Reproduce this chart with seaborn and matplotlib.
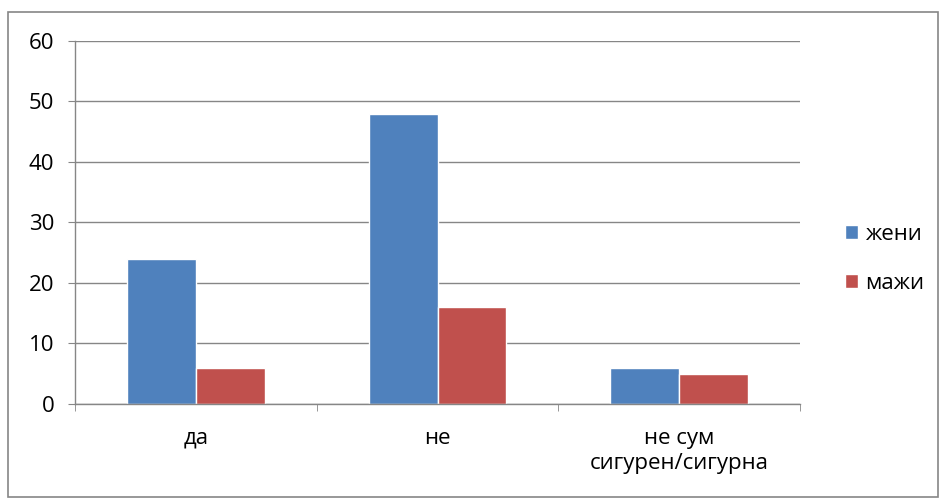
import matplotlib
matplotlib.use("Agg")
import matplotlib.pyplot as plt
import seaborn as sns
import pandas as pd
from matplotlib.patches import Rectangle

categories = ["да", "не", "не сум\nсигурен/сигурна"]
zeni = [24, 48, 6]
mazi = [6, 16, 5]
series_names = ["жени", "мажи"]
colors = ["#4F81BD", "#C0504D"]

df = pd.DataFrame({
    "category": categories * 2,
    "value": zeni + mazi,
    "series": [series_names[0]] * 3 + [series_names[1]] * 3,
})

sns.set_style("white")
plt.rcParams["font.family"] = ["Open Sans", "DejaVu Sans"]
plt.rcParams["text.color"] = "black"
plt.rcParams["xtick.color"] = "black"
plt.rcParams["ytick.color"] = "black"

fig = plt.figure(figsize=(9.4, 4.98), dpi=100)
ax = fig.add_axes([0.0798, 0.1888, 0.7713, 0.7289])

sns.barplot(data=df, x="category", y="value", hue="series", palette=colors,
            width=0.57, saturation=1, ax=ax, legend=True)

grid_c = "#868686"
ax.set_ylim(0, 60)
ax.set_yticks(range(0, 61, 10))
ax.yaxis.grid(True, color=grid_c, linewidth=1)
ax.set_axisbelow(True)
ax.set_xlim(-0.5, 2.5)
for s in ["top", "right"]:
    ax.spines[s].set_visible(False)
for s in ["left", "bottom"]:
    ax.spines[s].set_color(grid_c)
    ax.spines[s].set_linewidth(1)

ax.set_xlabel("")
ax.set_ylabel("")
ax.tick_params(axis="y", left=True, length=5, color=grid_c, labelsize=16,
               labelcolor="black", pad=10)
ax.tick_params(axis="x", which="major", length=0, labelsize=16,
               labelcolor="black", pad=17)
ax.set_xticks([-0.5, 0.5, 1.5, 2.5], minor=True)
ax.tick_params(axis="x", which="minor", bottom=True, length=5, color=grid_c)

for lbl in ax.get_xticklabels():
    lbl.set_linespacing(1.25)

leg = ax.legend(loc="center left", bbox_to_anchor=(1.035, 0.40), frameon=False,
                fontsize=16, handlelength=0.55, handleheight=0.55,
                handletextpad=0.35, labelspacing=1.25)
for t in leg.get_texts():
    t.set_color("black")

fig.patches.append(Rectangle((8 / 940, 1 / 498), 930 / 940, 485 / 498,
                             transform=fig.transFigure, fill=False,
                             edgecolor=grid_c, linewidth=1.2))

fig.savefig("out.png", dpi=100)
